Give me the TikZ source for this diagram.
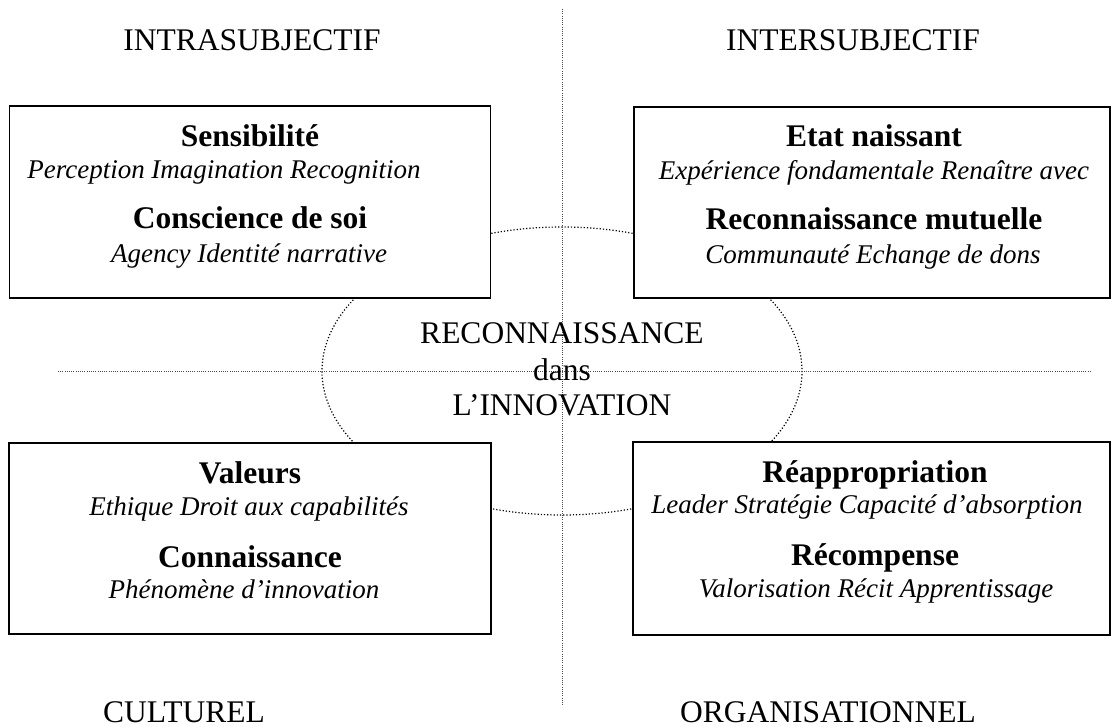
\documentclass[tikz,border=0pt]{standalone}
\usepackage{fontspec}
\setmainfont{Liberation Serif}
\begin{document}
\begin{tikzpicture}[x=1pt,y=-1pt,
  box/.style={draw=black,line width=1.6pt,fill=white},
  big/.style={font=\fontsize{31.5}{36}\selectfont,anchor=base,inner sep=0pt},
  ttl/.style={font=\fontsize{31.5}{36}\selectfont\bfseries,anchor=base,inner sep=0pt},
  sub/.style={font=\fontsize{27}{31}\selectfont\itshape,anchor=base,inner sep=0pt},
  axis/.style={draw=black!70,line width=0.7pt,dash pattern=on 1pt off 1.2pt},
  ring/.style={draw=black,line width=1.2pt,dash pattern=on 1.2pt off 2pt}]
\useasboundingbox (0,0) rectangle (1113,727);
% central ellipse
\draw[ring] (562,371) ellipse [x radius=240, y radius=144];
% axes
\coordinate (vt) at (562,9);
\coordinate (vb) at (562,706);
\coordinate (hl) at (58,371);
\coordinate (hr) at (1090,371);
\draw[axis] (vt) -- (vb);
\draw[axis] (hl) -- (hr);
% boxes
\node[box,minimum width=481,minimum height=192,inner sep=0pt] (tl) at (250,202) {};
\node[box,minimum width=476,minimum height=191,inner sep=0pt] (tr) at (872,202.5) {};
\node[box,minimum width=482,minimum height=191,inner sep=0pt] (bl) at (250,538.5) {};
\node[box,minimum width=477,minimum height=193,inner sep=0pt] (br) at (871.5,538.5) {};
% headings
\node[big] (h1) at (252,51) {INTRASUBJECTIF};
\node[big] (h2) at (853,51) {INTERSUBJECTIF};
\node[big] (h3) at (184,722) {CULTUREL};
\node[big] (h4) at (828,722) {ORGANISATIONNEL};
% centre
\node[big] (c1) at (562,343) {RECONNAISSANCE};
\node[big] (c2) at (562,380) {dans};
\node[big] (c3) at (562,415) {L’INNOVATION};
% top-left
\node[ttl] (a1) at (250,147) {Sensibilité};
\node[sub] (a2) at (224,179) {Perception Imagination Recognition};
\node[ttl] (a3) at (250,229) {Conscience de soi};
\node[sub] (a4) at (249,262) {Agency Identité narrative};
% top-right
\node[ttl] (b1) at (874,147) {Etat naissant};
\node[sub] (b2) at (874,180) {Expérience fondamentale Renaître avec};
\node[ttl] (b3) at (874,230) {Reconnaissance mutuelle};
\node[sub] (b4) at (873,263) {Communauté Echange de dons};
% bottom-left
\node[ttl] (d1) at (250,483) {Valeurs};
\node[sub] (d2) at (249,515) {Ethique Droit aux capabilités};
\node[ttl] (d3) at (250,567) {Connaissance};
\node[sub] (d4) at (244,598) {Phénomène d’innovation};
% bottom-right
\node[ttl] (e1) at (875,482) {Réappropriation};
\node[sub] (e2) at (867,513) {Leader Stratégie Capacité d’absorption};
\node[ttl] (e3) at (875,565) {Récompense};
\node[sub] (e4) at (876,597) {Valorisation Récit Apprentissage};
\end{tikzpicture}
\end{document}
